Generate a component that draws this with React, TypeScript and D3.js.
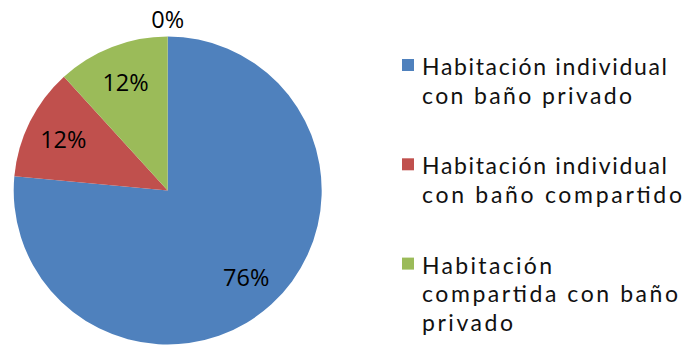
import React from "react";
import * as d3 from "d3";

const categories = [
  "Habitación individual con baño privado",
  "Habitación individual con baño compartido",
  "Habitación compartida con baño privado",
  "Otro",
];
const values = [13, 2, 2, 0];
const colors = ["#4F81BD", "#C0504D", "#9BBB59", "#8064A2"];
const legendLines = [
  ["Habitación individual", "con baño privado"],
  ["Habitación individual", "con baño compartido"],
  ["Habitación", "compartida con baño", "privado"],
];
const legendLineWidths = [
  [245, 210],
  [245, 260],
  [130, 256, 91],
];

export default function App() {
  const W = 684;
  const H = 346;
  const cx = 167.7;
  const cy = 190.5;
  const r = 154;
  const total = d3.sum(values);
  const pie = d3.pie<number>().sort(null).startAngle(0).endAngle(2 * Math.PI);
  const arcs = pie(values);
  const arc = d3.arc<d3.PieArcDatum<number>>().innerRadius(0).outerRadius(r);
  const labelArc = d3.arc<d3.PieArcDatum<number>>().innerRadius(116.6 * 2).outerRadius(0);
  const fmt = (v: number) => `${Math.round((v / total) * 100)}%`;

  return (
    <svg width={W} height={H} style={{ display: "block", position: "absolute", left: 0, top: 0 }}>
      <rect width={W} height={H} fill="#fff" />
      <g transform={`translate(${cx},${cy})`}>
        {arcs.map((a, i) =>
          a.value > 0 ? <path key={i} d={arc(a) || ""} fill={colors[i]} /> : null
        )}
        {arcs.map((a, i) => {
          let x: number, y: number;
          if (a.value > 0) {
            [x, y] = labelArc.centroid(a);
          } else {
            const ang = a.startAngle;
            x = Math.sin(ang) * (r + 18);
            y = -Math.cos(ang) * (r + 18);
          }
          return (
            <text
              key={"l" + i}
              x={x}
              y={y}
              textAnchor="middle"
              dominantBaseline="central"
              fontFamily="'Open Sans', sans-serif"
              fontSize={23.5}
              fill="#000"
            >
              {fmt(a.value)}
            </text>
          );
        })}
      </g>
      <g>
        {legendLines.map((lines, i) => {
          const top = 58 + i * 99.3;
          return (
            <g key={"lg" + i}>
              <rect x={402} y={top + 1} width={12} height={12} fill={colors[i]} />
              {lines.map((ln, j) => (
                <text
                  key={j}
                  x={422}
                  y={top + 17 + j * 28.5}
                  fontFamily="Lato, sans-serif"
                  fontSize={23}
                  fill="#111"
                  textLength={legendLineWidths[i][j]}
                  lengthAdjust="spacing"
                >
                  {ln}
                </text>
              ))}
            </g>
          );
        })}
      </g>
    </svg>
  );
}
